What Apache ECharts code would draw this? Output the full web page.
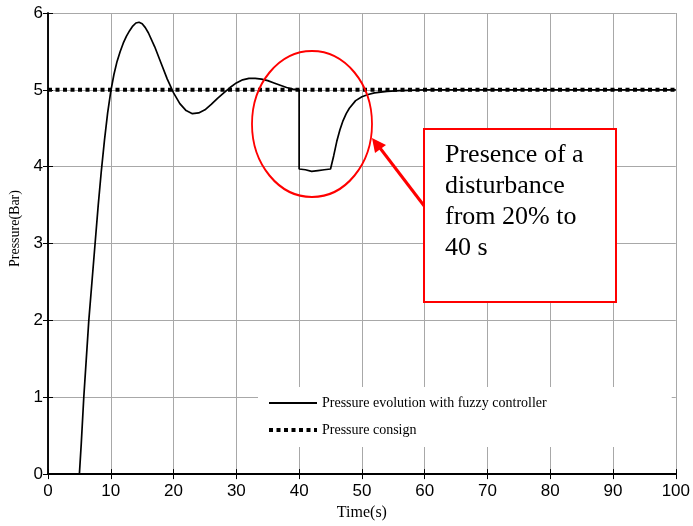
<!DOCTYPE html>
<html>
<head>
<meta charset="utf-8">
<script src="https://cdn.jsdelivr.net/npm/echarts@6/dist/echarts.min.js"></script>
<style>html,body{margin:0;padding:0;background:#fff;}#c{width:693px;height:526px;}</style>
</head>
<body>
<div id="c"></div>
<script>
// Data
var timeValues = [0, 5, 5.3, 5.7, 6.1, 6.5, 7, 7.5, 8, 8.5, 9, 9.5, 10, 10.5, 11, 11.5, 12, 12.5, 13, 13.5, 14, 14.5, 15, 15.5, 16, 17, 18, 19, 20, 21, 22, 23, 24, 25, 26, 27, 28, 29, 30, 31, 32, 33, 34, 35, 36, 37, 38, 39, 40, 40, 41, 42, 43, 44, 45, 45.5, 46, 46.5, 47, 47.5, 48, 49, 50, 51, 52, 54, 56, 60, 70, 80, 90, 100];
var pressureValues = [0, 0, 0.4, 1.0, 1.5, 2.0, 2.5, 3.0, 3.5, 3.95, 4.35, 4.7, 4.98, 5.2, 5.37, 5.5, 5.61, 5.7, 5.77, 5.83, 5.87, 5.88, 5.86, 5.81, 5.74, 5.56, 5.35, 5.14, 4.96, 4.82, 4.73, 4.69, 4.70, 4.74, 4.81, 4.89, 4.96, 5.03, 5.09, 5.13, 5.15, 5.15, 5.14, 5.12, 5.09, 5.06, 5.03, 5.01, 5.00, 3.97, 3.96, 3.94, 3.95, 3.96, 3.97, 4.14, 4.33, 4.48, 4.60, 4.69, 4.76, 4.86, 4.91, 4.94, 4.96, 4.98, 4.99, 5.0, 5.0, 5.0, 5.0, 5.0];
var consignTime = [0, 100];
var consignValues = [5, 5];
var xTicks = [0, 10, 20, 30, 40, 50, 60, 70, 80, 90, 100];
var yTicks = [0, 1, 2, 3, 4, 5, 6];
var seriesNames = ['Pressure evolution with fuzzy controller', 'Pressure consign'];
var annotationLines = ['Presence of a', 'disturbance', 'from 20% to', '40 s'];

function pairs(xs, ys) { return xs.map(function (x, i) { return [x, ys[i]]; }); }

var chart = echarts.init(document.getElementById('c'), null, { renderer: 'canvas' });
var gridColor = '#a8a8a8';
var tickFont = { fontFamily: 'Liberation Sans, Arial, sans-serif', fontSize: 17, color: '#000' };
var serif = 'Liberation Serif, Times New Roman, serif';
var dotted = [4, 3.5];

var option = {
  backgroundColor: '#fff',
  animation: false,
  grid: { left: 45, right: 14, top: 13, bottom: 51, containLabel: false },
  xAxis: [{
    type: 'value', min: xTicks[0], max: xTicks[xTicks.length - 1], interval: 10,
    name: 'Time(s)', nameLocation: 'middle', nameGap: 28,
    nameTextStyle: { fontFamily: serif, fontSize: 16, color: '#000' },
    axisLine: { show: true, lineStyle: { color: '#000', width: 2 } },
    axisTick: { show: true, inside: true, length: 5, lineStyle: { color: '#000' } },
    axisLabel: Object.assign({ margin: 9 }, tickFont),
    splitLine: { show: true, lineStyle: { color: gridColor, width: 1 } }
  }, {
    type: 'value', position: 'top', min: 0, max: 100, interval: 10,
    axisLine: { show: true, lineStyle: { color: '#000', width: 1.5 } },
    axisTick: { show: true, inside: true, length: 5, lineStyle: { color: '#000' } },
    axisLabel: { show: false }, splitLine: { show: false }
  }],
  yAxis: [{
    type: 'value', min: yTicks[0], max: yTicks[yTicks.length - 1], interval: 1,
    name: 'Pressure(Bar)', nameLocation: 'middle', nameGap: 26,
    nameTextStyle: { fontFamily: serif, fontSize: 14, color: '#000', padding: [0, 0, 0, 30] },
    axisLine: { show: true, lineStyle: { color: '#000', width: 1.5 } },
    axisTick: { show: true, inside: true, length: 5, lineStyle: { color: '#000' } },
    axisLabel: Object.assign({ margin: 5 }, tickFont),
    splitLine: { show: true, lineStyle: { color: gridColor, width: 1 } }
  }, {
    type: 'value', position: 'right', min: 0, max: 6, interval: 1,
    axisLine: { show: true, lineStyle: { color: '#000', width: 1.5 } },
    axisTick: { show: true, inside: true, length: 5, lineStyle: { color: '#000' } },
    axisLabel: { show: false }, splitLine: { show: false }
  }],
  legend: {
    orient: 'vertical', left: 258, top: 387,
    backgroundColor: '#fff',
    padding: [9, 125, 10, 9],
    itemWidth: 48, itemHeight: 14, itemGap: 13,
    itemStyle: { opacity: 0 },
    textStyle: { fontFamily: serif, fontSize: 14, color: '#000' },
    data: [
      { name: seriesNames[0], itemStyle: { opacity: 0 }, lineStyle: { color: '#000', width: 2, type: 'solid' } },
      { name: seriesNames[1], itemStyle: { opacity: 0 }, lineStyle: { color: '#000', width: 4, type: dotted, cap: 'butt' } }
    ]
  },
  series: [{
    name: seriesNames[0], type: 'line', showSymbol: false, symbol: 'none',
    data: pairs(timeValues, pressureValues),
    lineStyle: { color: '#000', width: 1.7 }, itemStyle: { color: '#000' }, z: 3
  }, {
    name: seriesNames[1], type: 'line', showSymbol: false, symbol: 'none',
    data: pairs(consignTime, consignValues),
    lineStyle: { color: '#000', width: 4, type: dotted, cap: 'butt' },
    itemStyle: { color: '#000' }, z: 4
  }],
  graphic: [
    { type: 'circle', shape: { cx: 0, cy: 0, r: 60 }, x: 312, y: 124, scaleX: 1, scaleY: 73 / 60,
      style: { fill: 'none', stroke: '#ff0000', lineWidth: 1.8 }, z: 10 },
    { type: 'line', shape: { x1: 425, y1: 207, x2: 380, y2: 148 },
      style: { stroke: '#ff0000', lineWidth: 3 }, z: 10 },
    { type: 'polygon', shape: { points: [[372, 138], [386, 145], [375, 153]] },
      style: { fill: '#ff0000' }, z: 10 },
    { type: 'rect', shape: { x: 424, y: 129, width: 192, height: 173 },
      style: { fill: '#fff', stroke: '#ff0000', lineWidth: 2 }, z: 10 },
    { type: 'text', x: 445, y: 140, z: 11,
      style: { text: annotationLines.join('\n'), fontFamily: serif, fontSize: 26, lineHeight: 31,
               fill: '#000', verticalAlign: 'top', align: 'left' } }
  ]
};
chart.setOption(option);
</script>
</body>
</html>
